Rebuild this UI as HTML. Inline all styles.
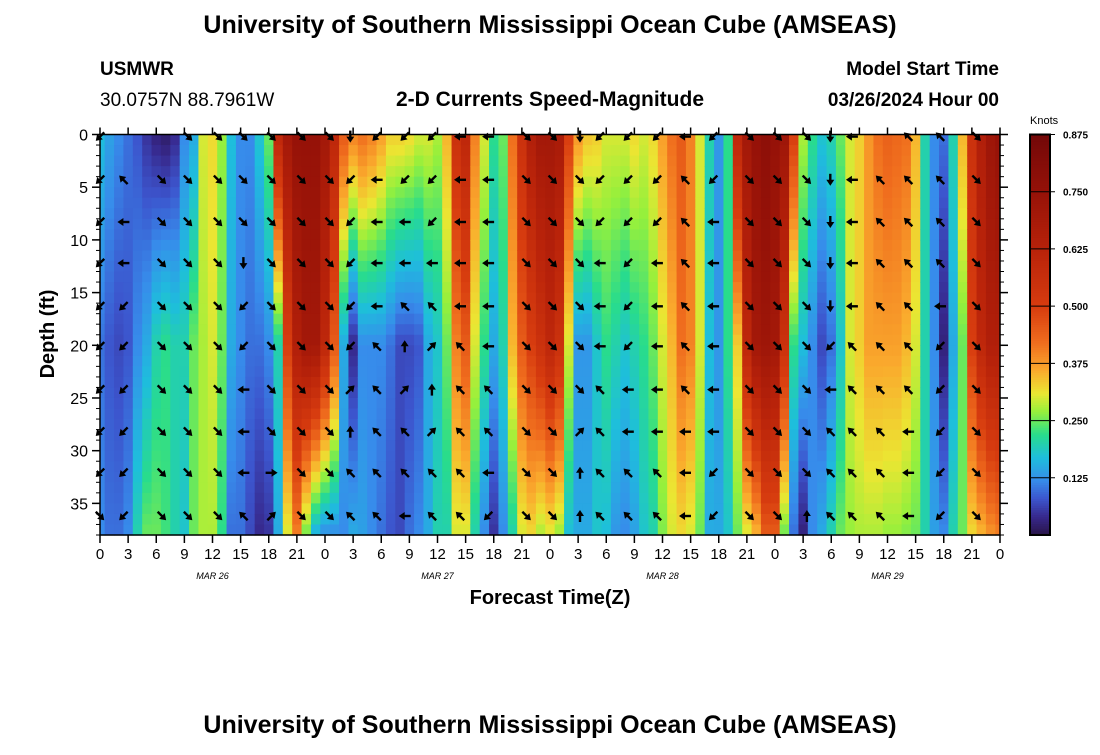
<!DOCTYPE html>
<html><head><meta charset="utf-8">
<style>
body{margin:0;background:#fff;width:1100px;height:750px;overflow:hidden;font-family:"Liberation Sans",Arial,sans-serif}
svg text{font-family:"Liberation Sans",Arial,sans-serif}
</style></head>
<body>
<svg id="chart" width="1100" height="750" xmlns="http://www.w3.org/2000/svg">
<text x="550" y="33" text-anchor="middle" font-size="25" font-weight="bold">University of Southern Mississippi Ocean Cube (AMSEAS)</text>
<text x="100" y="75" font-size="19" font-weight="bold">USMWR</text>
<text x="100" y="106" font-size="19">30.0757N  88.7961W</text>
<text x="550" y="106" text-anchor="middle" font-size="21" font-weight="bold">2-D Currents Speed-Magnitude</text>
<text x="999" y="75" text-anchor="end" font-size="19" font-weight="bold">Model Start Time</text>
<text x="999" y="106" text-anchor="end" font-size="19" font-weight="bold">03/26/2024 Hour 00</text>
<g id="heat"></g>
<g id="arrows"></g>
<g id="axes"></g>
<g id="cbar"></g>
<text transform="translate(54,334) rotate(-90)" text-anchor="middle" font-size="20" font-weight="bold">Depth (ft)</text>
<text x="550" y="604" text-anchor="middle" font-size="20" font-weight="bold">Forecast Time(Z)</text>
<text x="550" y="733" text-anchor="middle" font-size="25" font-weight="bold">University of Southern Mississippi Ocean Cube (AMSEAS)</text>
</svg>
<script>
// speed (knots) per forecast hour 0..96 at surface, ~20 ft and bottom (~38 ft)
const surfaceSpeed=[0.17,0.14,0.12,0.1,0.08,0.05,0.03,0.02,0.04,0.12,0.15,0.3,0.32,0.27,0.17,0.12,0.12,0.18,0.25,0.6,0.7,0.75,0.75,0.75,0.7,0.6,0.45,0.4,0.42,0.4,0.37,0.33,0.33,0.32,0.3,0.3,0.28,0.35,0.55,0.6,0.4,0.3,0.22,0.25,0.42,0.55,0.65,0.7,0.7,0.68,0.5,0.38,0.34,0.33,0.3,0.3,0.3,0.32,0.3,0.32,0.37,0.42,0.45,0.4,0.3,0.2,0.13,0.22,0.6,0.7,0.75,0.78,0.75,0.72,0.5,0.28,0.22,0.18,0.2,0.25,0.3,0.33,0.38,0.42,0.44,0.43,0.42,0.35,0.2,0.12,0.1,0.2,0.35,0.55,0.65,0.72,0.75];
const midSpeed=[0.1,0.08,0.07,0.08,0.12,0.15,0.2,0.22,0.2,0.2,0.25,0.28,0.3,0.25,0.15,0.12,0.1,0.1,0.12,0.2,0.5,0.65,0.7,0.7,0.6,0.45,0.15,0.04,0.12,0.12,0.12,0.1,0.07,0.07,0.08,0.15,0.18,0.25,0.4,0.45,0.3,0.22,0.15,0.2,0.35,0.45,0.5,0.55,0.6,0.55,0.3,0.13,0.13,0.18,0.22,0.2,0.18,0.2,0.22,0.25,0.3,0.35,0.42,0.4,0.3,0.17,0.13,0.22,0.33,0.6,0.7,0.72,0.7,0.55,0.22,0.17,0.12,0.07,0.1,0.18,0.3,0.33,0.37,0.37,0.37,0.37,0.35,0.3,0.2,0.12,0.03,0.15,0.25,0.5,0.6,0.65,0.65];
const bottomSpeed=[0.12,0.1,0.1,0.12,0.2,0.25,0.25,0.23,0.2,0.18,0.25,0.28,0.28,0.22,0.1,0.1,0.07,0.04,0.05,0.15,0.3,0.4,0.25,0.15,0.12,0.12,0.12,0.15,0.14,0.12,0.1,0.08,0.07,0.1,0.12,0.15,0.2,0.2,0.3,0.3,0.2,0.12,0.05,0.12,0.2,0.3,0.32,0.28,0.3,0.27,0.17,0.15,0.15,0.18,0.17,0.13,0.12,0.14,0.18,0.2,0.26,0.3,0.32,0.3,0.25,0.15,0.15,0.18,0.25,0.3,0.35,0.45,0.45,0.25,0.1,0.03,0.12,0.15,0.2,0.25,0.27,0.28,0.28,0.28,0.27,0.27,0.26,0.25,0.2,0.14,0.12,0.2,0.25,0.32,0.35,0.38,0.4];
// arrow columns: forecast hour, and direction per depth row (7=NW 8=N 9=NE 4=W 6=E 1=SW 2=S 3=SE, 0=none)
const arrowHours=[0,2.5,6.6,9.4,12.6,15.3,18.3,21.5,24.5,26.7,29.5,32.5,35.4,38.4,41.4,45.5,48.3,51.2,53.3,56.3,59.4,62.4,65.4,69.3,72.3,75.4,77.9,80.2,83.2,86.2,89.6,93.5];
const arrowDirs=["1111111113","0744111111","0333333333","3333333333","3333333333","3332114447","3333333369","3333333333","3333333333","2111119877","1444477777","1144789774","1114798977","4444477777","4444447741","3333333333","3333333333","2333333988","1114447777","1111114477","1114444477","4777777444","1144444411","3333333333","3333333333","3333333338","2222214777","4444477777","0777777777","7777777444","7777411111","3333333333"];
const arrowDepths=[0.2,4.3,8.3,12.2,16.3,20.1,24.2,28.2,32.1,36.2];
const depthTicks=[0,5,10,15,20,25,30,35];
const hourTickLabels=["0","3","6","9","12","15","18","21","0","3","6","9","12","15","18","21","0","3","6","9","12","15","18","21","0","3","6","9","12","15","18","21","0"];
const dayLabels=["MAR 26","MAR 27","MAR 28","MAR 29"];
const cbarTicks=[0.125,0.25,0.375,0.5,0.625,0.75,0.875];

const NS="http://www.w3.org/2000/svg";
const X0=100,X1=1000,Y0=134.5,Y1=535,HMAX=96,DMAX=38,VMAX=0.875;
const xs=h=>X0+h*(X1-X0)/HMAX;
const ys=d=>Y0+d*(Y1-Y0)/DMAX;
const stops=[[0,[40,20,70]],[0.04,[55,40,140]],[0.08,[60,85,205]],[0.12,[55,140,235]],[0.17,[30,190,220]],[0.22,[40,220,140]],[0.27,[150,240,60]],[0.31,[235,230,50]],[0.36,[250,170,45]],[0.42,[240,110,30]],[0.5,[215,60,15]],[0.62,[185,35,10]],[0.75,[150,18,8]],[0.875,[115,8,8]]];
function color(v){v=Math.max(0,Math.min(VMAX,v));for(let i=1;i<stops.length;i++){if(v<=stops[i][0]){const a=stops[i-1],b=stops[i];const t=(v-a[0])/(b[0]-a[0]);const c=a[1].map((q,k)=>Math.round(q+(b[1][k]-q)*t));return `rgb(${c[0]},${c[1]},${c[2]})`;}}return 'rgb(115,8,8)';}
function el(t,a,p){const e=document.createElementNS(NS,t);for(const k in a)e.setAttribute(k,a[k]);(p||svg).appendChild(e);return e;}
const svg=document.getElementById('chart');
const heat=document.getElementById('heat');
function speedAt(h,d){const s=surfaceSpeed[h],m=midSpeed[h],b=bottomSpeed[h];return d<=20?s+(m-s)*d/20:m+(b-m)*(d-20)/18;}
for(let h=0;h<surfaceSpeed.length;h++){
  const xa=Math.max(X0,xs(h-0.5)),xb=Math.min(X1,xs(h+0.5));
  for(let d=0;d<DMAX;d+=1){
    const r=el('rect',{x:xa.toFixed(2),y:ys(d).toFixed(2),width:(xb-xa+0.6).toFixed(2),height:(ys(d+1)-ys(d)+0.6).toFixed(2),fill:color(speedAt(h,d+0.5))},heat);
    
    
  }
}
const ag=document.getElementById('arrows');
const ang={'6':0,'9':-45,'8':-90,'7':-135,'4':180,'1':135,'2':90,'3':45};
arrowHours.forEach((h,i)=>{
  for(let r=0;r<arrowDepths.length;r++){
    const c=arrowDirs[i][r];if(c==='0')continue;
    const g=el('g',{transform:`translate(${xs(h).toFixed(1)},${ys(arrowDepths[r]).toFixed(1)}) rotate(${ang[c]})`},ag);
    
    
    el('line',{x1:-6,y1:0,x2:1,y2:0,stroke:'#000','stroke-width':2.4},g);
    el('polygon',{points:'6,0 0,-4 0,4',fill:'#000'},g);
  }
});
const ax=document.getElementById('axes');
el('rect',{x:X0,y:Y0,width:X1-X0,height:Y1-Y0,fill:'none',stroke:'#000','stroke-width':1.5},ax);
for(let d=0;d<=DMAX;d++){el('line',{x1:X0-4,x2:X0,y1:ys(d),y2:ys(d),stroke:'#000','stroke-width':1},ax);el('line',{x1:X1,x2:X1+4,y1:ys(d),y2:ys(d),stroke:'#000','stroke-width':1},ax);}
depthTicks.forEach(d=>{
  el('line',{x1:X0-8,x2:X0,y1:ys(d),y2:ys(d),stroke:'#000','stroke-width':1.5},ax);
  el('line',{x1:X1,x2:X1+8,y1:ys(d),y2:ys(d),stroke:'#000','stroke-width':1.5},ax);
  const t=el('text',{x:X0-12,y:ys(d)+6,'text-anchor':'end','font-size':16},ax);t.textContent=d;
  
  
});
hourTickLabels.forEach((l,i)=>{
  const x=xs(i*3);
  el('line',{x1:x,x2:x,y1:Y1,y2:Y1+8,stroke:'#000','stroke-width':1.5},ax);
  el('line',{x1:x,x2:x,y1:Y0-7,y2:Y0,stroke:'#000','stroke-width':1.5},ax);
  const t=el('text',{x:x,y:Y1+24,'text-anchor':'middle','font-size':15},ax);t.textContent=l;
  
  
});
dayLabels.forEach((l,i)=>{
  const t=el('text',{x:xs(12+24*i),y:Y1+44,'text-anchor':'middle','font-size':9,'font-style':'italic','font-family':'Liberation Mono, monospace'},ax);t.textContent=l;
  
  
});
const cb=document.getElementById('cbar');
const CX=1030,CW=20;
const cy=v=>Y1-(v/VMAX)*(Y1-Y0);
for(let v=0;v<VMAX;v+=0.005){el('rect',{x:CX,y:cy(v+0.005).toFixed(2),width:CW,height:(cy(v)-cy(v+0.005)+0.5).toFixed(2),fill:color(v+0.0025)},cb);}
el('rect',{x:CX,y:Y0,width:CW,height:Y1-Y0,fill:'none',stroke:'#000','stroke-width':2},cb);
cbarTicks.forEach(v=>{
  el('line',{x1:CX,x2:CX+CW+5,y1:cy(v),y2:cy(v),stroke:'#000','stroke-width':1},cb);
  const t=el('text',{x:CX+CW+13,y:cy(v)+4,'font-size':10,'font-weight':'bold'},cb);t.textContent=v.toFixed(3);
  
  
});
const kt=el('text',{x:CX,y:124,'font-size':11},cb);kt.textContent='Knots';


</script>
</body></html>
